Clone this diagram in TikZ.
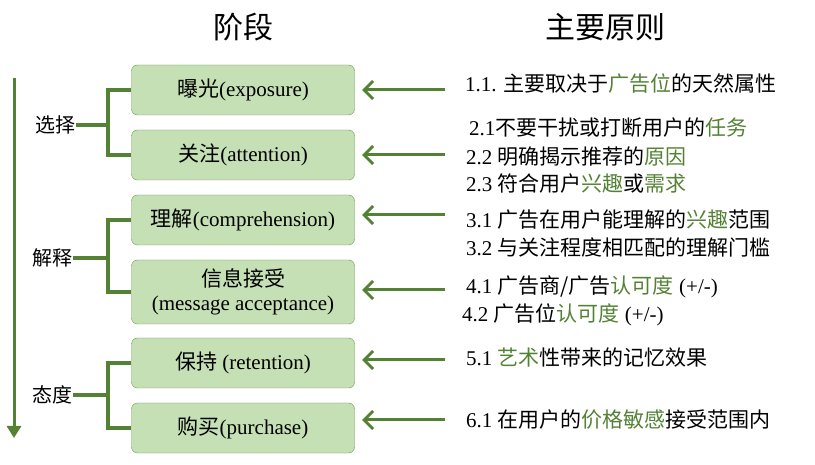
\documentclass[tikz,border=0pt]{standalone}
\usepackage{fontspec}
\setmainfont{Liberation Serif}
\newfontfamily\cjk{Noto Sans CJK SC}
\newcommand\zh[1]{{\cjk #1}}
\newcommand\hl[1]{{\cjk\color{hlgreen}#1}}
\usetikzlibrary{arrows.meta}
\definecolor{hlgreen}{HTML}{548235}
\definecolor{boxfill}{HTML}{C5E0B4}
\definecolor{boxline}{HTML}{6A9A48}
\tikzset{
  stage/.style={draw=boxline, fill=boxfill, rounded corners=6pt, minimum width=223pt,
    minimum height=50pt, align=center, inner sep=1pt, font=\fontsize{21}{24}\selectfont},
  brace/.style={draw=hlgreen, line width=3.5pt},
  pointer/.style={draw=hlgreen, line width=3pt, -{Straight Barb[length=9pt,width=18pt]}},
  rule/.style={anchor=west, inner sep=0pt, font=\fontsize{21}{23}\selectfont}
}
\begin{document}
\begin{tikzpicture}[x=1pt,y=-1pt]
  \useasboundingbox (0,0) rectangle (815,465);
  % headers
  \node[font=\cjk\fontsize{30}{32}\selectfont] (hstage) at (243,27) {阶段};
  \node[font=\cjk\fontsize{30}{32}\selectfont] (hrule) at (605,27) {主要原则};

  % stages
  \node[stage] (s1) at (243,90) {\zh{曝光}(exposure)};
  \node[stage] (s2) at (243,155) {\zh{关注}(attention)};
  \node[stage] (s3) at (243,220) {\zh{理解}(comprehension)};
  \node[stage, minimum height=64pt] (s4) at (243,292) {\zh{信息接受}\\(message acceptance)};
  \node[stage] (s5) at (243,363) {\zh{保持} (retention)};
  \node[stage] (s6) at (243,428) {\zh{购买}(purchase)};

  % groups
  \node[font=\cjk\fontsize{20}{22}\selectfont, inner sep=1pt] (g1) at (55,125) {选择};
  \node[font=\cjk\fontsize{20}{22}\selectfont, inner sep=1pt] (g2) at (52,258) {解释};
  \node[font=\cjk\fontsize{20}{22}\selectfont, inner sep=1pt] (g3) at (52,395) {态度};
  \draw[brace] (s1.west) -| (108,125) |- (s2.west);
  \draw[brace] (g1.east) -- (108,125);
  \draw[brace] (s3.west) -| (108,258) |- (s4.west);
  \draw[brace] (g2.east) -- (108,258);
  \draw[brace] (s5.west) -| (108,395) |- (s6.west);
  \draw[brace] (g3.east) -- (108,395);

  % time axis
  \coordinate (ttop) at (14,78);
  \coordinate (tbot) at (14,438);
  \draw[draw=hlgreen, line width=3pt, -{Triangle[length=12pt,width=14pt]}] (ttop) -- (tbot);

  % rules
  \node[rule] (r1) at (465,84) {1.1. \zh{主要取决于}\hl{广告位}\zh{的天然属性}};
  \node[rule] (r2) at (469,128) {2.1\zh{不要干扰或打断用户的}\hl{任务}};
  \node[rule] (r3) at (466,157) {2.2 \zh{明确揭示推荐的}\hl{原因}};
  \node[rule] (r4) at (466,184) {2.3 \zh{符合用户}\hl{兴趣}\zh{或}\hl{需求}};
  \node[rule] (r5) at (466,220) {3.1 \zh{广告在用户能理解的}\hl{兴趣}\zh{范围}};
  \node[rule] (r6) at (466,248) {3.2 \zh{与关注程度相匹配的理解门槛}};
  \node[rule] (r7) at (466,287) {4.1 \zh{广告商/广告}\hl{认可度} (+/-)};
  \node[rule] (r8) at (462,315) {4.2 \zh{广告位}\hl{认可度} (+/-)};
  \node[rule] (r9) at (466,358) {5.1 \hl{艺术}\zh{性带来的记忆效果}};
  \node[rule] (r10) at (466,420) {6.1 \zh{在用户的}\hl{价格敏感}\zh{接受范围内}};

  % pointers
  \foreach \s/\y in {s1/90, s2/155, s3/215, s4/290, s5/360, s6/420}
    \draw[pointer] (445,\y) -- (362,\y);
\end{tikzpicture}
\end{document}
